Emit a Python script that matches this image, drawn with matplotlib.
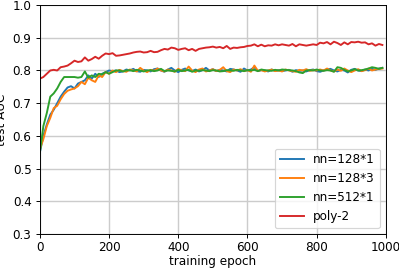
import numpy as np
import matplotlib
matplotlib.use("Agg")
import matplotlib.pyplot as plt

# epochs, one point every 10
epochs = np.arange(0, 1000, 10)

# nn=128*1
nn_128_1 = [0.550, 0.600, 0.635, 0.665, 0.680, 0.700, 0.720, 0.735, 0.748, 0.752,
            0.745, 0.760, 0.765, 0.770, 0.785, 0.775, 0.790, 0.780, 0.790, 0.795,
            0.800,
            0.798, 0.800, 0.795, 0.797, 0.803, 0.800, 0.805, 0.798, 0.796, 0.802,
            0.800, 0.797, 0.804, 0.806, 0.800, 0.796, 0.803, 0.808, 0.800, 0.795,
            0.802, 0.806, 0.800, 0.798, 0.803, 0.797, 0.801, 0.808, 0.800, 0.804,
            0.798, 0.802, 0.800, 0.797, 0.805, 0.803, 0.800, 0.796, 0.806, 0.800,
            0.803, 0.810, 0.798, 0.801, 0.800, 0.797, 0.803, 0.799, 0.801, 0.798,
            0.800, 0.802, 0.796, 0.801, 0.799, 0.800, 0.797, 0.801, 0.803, 0.798,
            0.796, 0.800, 0.803, 0.805, 0.800, 0.797, 0.802, 0.800, 0.794, 0.802,
            0.805, 0.800, 0.798, 0.803, 0.800, 0.805, 0.802, 0.806, 0.808]

# nn=128*3
nn_128_3 = [0.560, 0.590, 0.630, 0.655, 0.685, 0.692, 0.712, 0.728, 0.738, 0.742,
            0.745, 0.752, 0.765, 0.758, 0.778, 0.770, 0.765, 0.785, 0.780, 0.795,
            0.790,
            0.800, 0.795, 0.802, 0.798, 0.796, 0.803, 0.800, 0.797, 0.808, 0.800,
            0.795, 0.802, 0.799, 0.806, 0.800, 0.797, 0.803, 0.800, 0.796, 0.805,
            0.800, 0.798, 0.812, 0.800, 0.795, 0.803, 0.806, 0.797, 0.800, 0.804,
            0.798, 0.802, 0.810, 0.798, 0.795, 0.803, 0.800, 0.804, 0.798, 0.801,
            0.796, 0.815, 0.799, 0.801, 0.797, 0.800, 0.803, 0.798, 0.800, 0.797,
            0.803, 0.800, 0.798, 0.796, 0.802, 0.800, 0.804, 0.799, 0.801, 0.800,
            0.803, 0.800, 0.806, 0.800, 0.797, 0.803, 0.799, 0.806, 0.800, 0.795,
            0.800, 0.804, 0.798, 0.801, 0.806, 0.800, 0.803, 0.805, 0.806]

# nn=512*1
nn_512_1 = [0.550, 0.630, 0.670, 0.720, 0.730, 0.745, 0.765, 0.780, 0.780, 0.780,
            0.780, 0.778, 0.780, 0.797, 0.778, 0.785, 0.780, 0.790, 0.788, 0.795,
            0.790,
            0.795, 0.800, 0.800, 0.797, 0.800, 0.801, 0.798, 0.802, 0.800, 0.797,
            0.800, 0.801, 0.798, 0.800, 0.805, 0.798, 0.800, 0.799, 0.797, 0.802,
            0.798, 0.800, 0.802, 0.796, 0.800, 0.799, 0.801, 0.800, 0.798, 0.801,
            0.800, 0.797, 0.798, 0.801, 0.800, 0.799, 0.802, 0.800, 0.798, 0.801,
            0.800, 0.802, 0.798, 0.803, 0.801, 0.800, 0.799, 0.802, 0.800, 0.803,
            0.802, 0.801, 0.800, 0.798, 0.794, 0.792, 0.800, 0.801, 0.800, 0.803,
            0.800, 0.799, 0.801, 0.800, 0.796, 0.810, 0.808, 0.802, 0.797, 0.800,
            0.804, 0.800, 0.801, 0.803, 0.806, 0.810, 0.808, 0.805, 0.808]

# poly-2
poly_2 = [0.775, 0.780, 0.790, 0.800, 0.802, 0.800, 0.810, 0.812, 0.815, 0.822,
          0.830, 0.826, 0.828, 0.840, 0.830, 0.835, 0.842, 0.836, 0.845, 0.852,
          0.850, 0.853, 0.845, 0.846, 0.848, 0.850, 0.852, 0.855, 0.857, 0.858,
          0.855, 0.856, 0.860, 0.856, 0.857, 0.862, 0.866, 0.864, 0.870, 0.868,
          0.863, 0.866, 0.868, 0.862, 0.866, 0.860, 0.866, 0.868, 0.870, 0.871,
          0.873, 0.870, 0.872, 0.868, 0.875, 0.866, 0.870, 0.869, 0.871, 0.872,
          0.875, 0.876, 0.880, 0.874, 0.879, 0.874, 0.877, 0.876, 0.880, 0.877,
          0.880, 0.878, 0.876, 0.881, 0.874, 0.880, 0.878, 0.876, 0.878, 0.880,
          0.878, 0.885, 0.883, 0.887, 0.880, 0.888, 0.884, 0.878, 0.886, 0.880,
          0.887, 0.886, 0.888, 0.885, 0.886, 0.880, 0.883, 0.876, 0.881, 0.878]

# original looks like a bigger figure scaled down, so render at a lower dpi
dpi = 86
fig = plt.figure(figsize=(399 / dpi, 268 / dpi), dpi=dpi)
ax = fig.add_axes([0.100, 0.127, 0.867, 0.854])

ax.plot(epochs, nn_128_1, label="nn=128*1", linewidth=1.6)
ax.plot(epochs, nn_128_3, label="nn=128*3", linewidth=1.6)
ax.plot(epochs, nn_512_1, label="nn=512*1", linewidth=1.6)
ax.plot(epochs, poly_2, label="poly-2", linewidth=1.6)

ax.set_xlim(0, 1000)
ax.set_ylim(0.3, 1.0)
ax.grid(True, color="#cccccc", linewidth=1.2)
ax.set_axisbelow(True)
ax.tick_params(axis="x", pad=2.0)
ax.set_xlabel("training epoch", labelpad=1.5)
ax.set_ylabel("test AUC")
ax.legend(loc="lower right")

fig.savefig("out.png", dpi=dpi)
